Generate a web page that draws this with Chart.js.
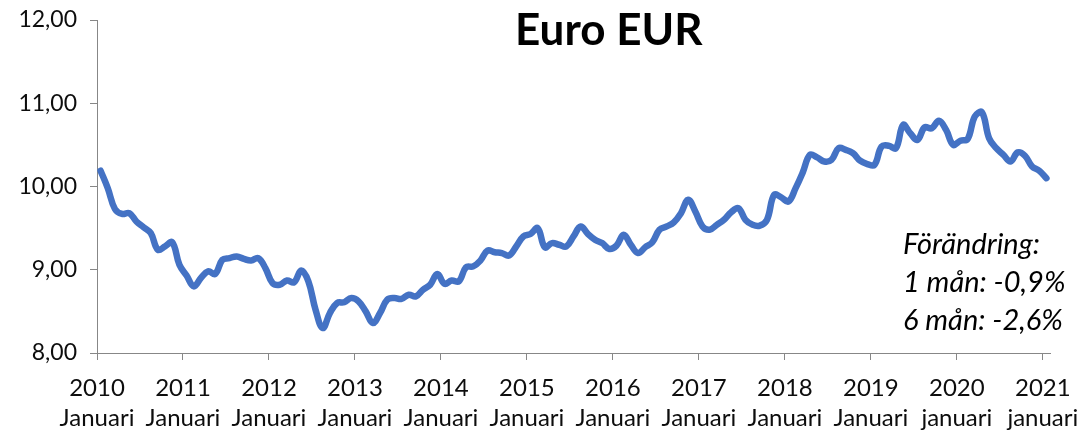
<!DOCTYPE html>
<html>
<head>
<meta charset="utf-8">
<title>Euro EUR</title>
<script src="https://cdn.jsdelivr.net/npm/chart.js@4.4.1/dist/chart.umd.min.js"></script>
<style>
  html, body { margin: 0; padding: 0; background: #fff; }
  #wrap { width: 1087px; height: 433px; }
</style>
</head>
<body>
<div id="wrap"><canvas id="eurChart" width="1087" height="433"></canvas></div>
<script>
// ================= DATA =================
const chartTitle = "Euro EUR";

// SEK per EUR, månadsvärden (jan - dec)
const rates2010 = [10.19, 9.98, 9.73, 9.67, 9.68, 9.58, 9.51, 9.44, 9.24, 9.28, 9.33, 9.06];
const rates2011 = [8.93, 8.80, 8.90, 8.98, 8.95, 9.12, 9.14, 9.16, 9.13, 9.11, 9.14, 9.02];
const rates2012 = [8.84, 8.82, 8.87, 8.85, 8.99, 8.86, 8.52, 8.30, 8.48, 8.60, 8.61, 8.66];
const rates2013 = [8.62, 8.50, 8.36, 8.48, 8.64, 8.66, 8.65, 8.70, 8.68, 8.76, 8.82, 8.95];
const rates2014 = [8.83, 8.87, 8.86, 9.03, 9.04, 9.11, 9.23, 9.21, 9.20, 9.17, 9.28, 9.40];
const rates2015 = [9.43, 9.50, 9.27, 9.32, 9.30, 9.28, 9.40, 9.52, 9.43, 9.36, 9.32, 9.25];
const rates2016 = [9.29, 9.42, 9.30, 9.20, 9.27, 9.33, 9.48, 9.52, 9.57, 9.68, 9.84, 9.70];
const rates2017 = [9.52, 9.48, 9.54, 9.60, 9.69, 9.74, 9.60, 9.54, 9.53, 9.60, 9.90, 9.87];
const rates2018 = [9.82, 9.98, 10.17, 10.38, 10.35, 10.30, 10.32, 10.46, 10.44, 10.40, 10.31, 10.27];
const rates2019 = [10.26, 10.48, 10.49, 10.46, 10.74, 10.64, 10.56, 10.71, 10.70, 10.79, 10.68, 10.50];
const rates2020 = [10.55, 10.57, 10.84, 10.89, 10.58, 10.46, 10.38, 10.30, 10.41, 10.37, 10.24, 10.19];
const rates2021 = [10.10];

const tickYears = ["2010", "2011", "2012", "2013", "2014", "2015", "2016", "2017", "2018", "2019", "2020", "2021"];
const tickMonths = ["Januari", "Januari", "Januari", "Januari", "Januari", "Januari", "Januari", "Januari", "Januari", "Januari", "januari", "januari"];
const yTicks = [8, 9, 10, 11, 12];

const notes = ["Förändring:", "1 mån: -0,9%", "6 mån: -2,6%"];

// ================= SETUP =================
const rates = [].concat(rates2010, rates2011, rates2012, rates2013, rates2014, rates2015,
  rates2016, rates2017, rates2018, rates2019, rates2020, rates2021);

// each month sits in the middle of its month, january ticks on the month start
const points = rates.map((v, i) => ({ x: i + 0.5, y: v }));
const xTickValues = tickYears.map((y, i) => i * 12);

const axisGray = "#878787";
const textColor = "#0d0d0d";
const font = "Lato";

// ================= TEXT PLUGIN =================
const textPlugin = {
  id: "textPlugin",
  afterDraw(chart) {
    const ctx = chart.ctx;
    ctx.save();
    ctx.fillStyle = "#000";
    ctx.textBaseline = "alphabetic";

    ctx.font = `bold 44px ${font}`;
    ctx.textAlign = "center";
    ctx.fillText(chartTitle, chart.width * 0.56, 45);

    ctx.font = `italic 29px ${font}`;
    ctx.textAlign = "left";
    notes.forEach((t, i) => ctx.fillText(t, 903, 254 + i * 38));
    ctx.restore();
  }
};

// ================= CHART =================
new Chart(document.getElementById("eurChart"), {
  type: "line",
  data: {
    datasets: [{
      data: points,
      borderColor: "#4472C4",
      borderWidth: 6.5,
      borderCapStyle: "round",
      borderJoinStyle: "round",
      pointRadius: 0,
      tension: 0.4,
      fill: false
    }]
  },
  options: {
    responsive: false,
    animation: false,
    devicePixelRatio: 1,
    layout: { padding: { top: 20, right: 37, left: 0, bottom: 0 } },
    plugins: {
      legend: { display: false },
      tooltip: { enabled: false },
      title: { display: false }
    },
    scales: {
      x: {
        type: "linear",
        min: 0,
        max: rates.length,
        afterBuildTicks: scale => {
          scale.ticks = xTickValues.map(v => ({ value: v }));
        },
        afterFit: scale => {
          scale.height = 80;
          scale.paddingLeft = 0;
          scale.paddingRight = 0;
        },
        ticks: {
          autoSkip: false,
          maxRotation: 0,
          color: textColor,
          padding: 13,
          font: { family: font, size: 24, lineHeight: 1.25 },
          callback: (value, index) => [tickYears[index], tickMonths[index]]
        },
        grid: {
          display: true,
          drawOnChartArea: false,
          drawTicks: true,
          tickLength: 7,
          color: axisGray
        },
        border: { display: true, color: axisGray, width: 1 }
      },
      y: {
        min: yTicks[0],
        max: yTicks[yTicks.length - 1],
        afterBuildTicks: scale => {
          scale.ticks = yTicks.map(v => ({ value: v }));
        },
        afterFit: scale => {
          scale.width = 97;
          scale.paddingTop = 0;
          scale.paddingBottom = 0;
        },
        ticks: {
          color: textColor,
          padding: 13,
          font: { family: font, size: 23 },
          callback: v => v.toFixed(2).replace(".", ",")
        },
        grid: {
          display: true,
          drawOnChartArea: false,
          drawTicks: true,
          tickLength: 7,
          color: axisGray
        },
        border: { display: true, color: axisGray, width: 1 }
      }
    }
  },
  plugins: [textPlugin]
});
</script>
</body>
</html>
